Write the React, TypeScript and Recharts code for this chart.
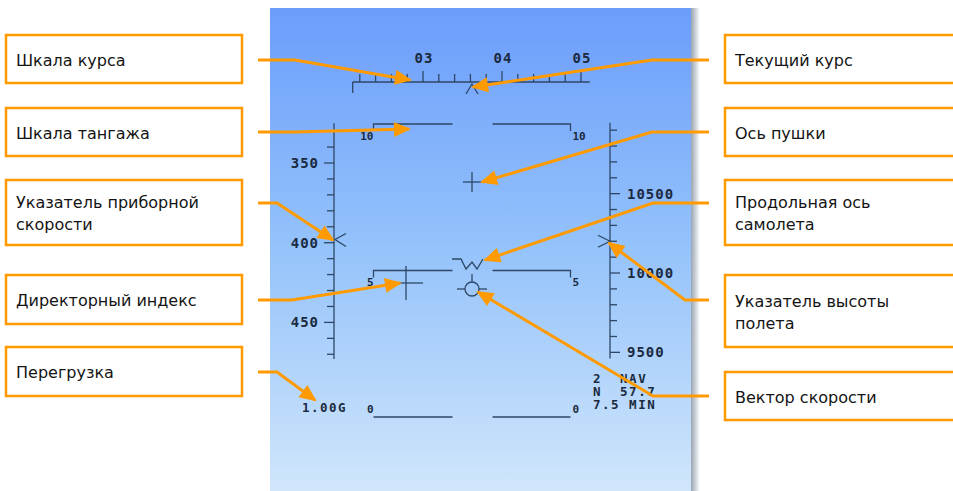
import { ComposedChart, ReferenceArea, ReferenceLine, Scatter, XAxis, YAxis } from 'recharts'

const W = 953
const H = 491
const ORANGE = '#ff9a00'
const HUD_INK = '#2e4766'
const HUD_TEXT = '#1b2a40'
const HUD_FONT = "'DejaVu Sans Mono', monospace"
const LABEL_FONT = "'DejaVu Sans', Verdana, sans-serif"

// heading tape (degrees)
const headingTicks = [22, 24, 26, 28, 30, 32, 34, 36, 38, 40, 42, 44, 46, 48, 50]
const headingLabels = [30, 40, 50]
const headingRange = [21.1, 51.1]
const currentHeading = 36.2

// airspeed scale (km/h)
const speedTicks = [330, 340, 350, 360, 370, 380, 390, 400, 410, 420, 430, 440, 450, 460, 470]
const speedLabels = [350, 400, 450]
const speedRange = [325, 473]
const currentSpeed = 398

// altitude scale (ft)
const altTicks = [9500, 9600, 9700, 9800, 9900, 10000, 10100, 10200, 10300, 10400, 10500, 10600, 10700, 10800, 10900]
const altLabels = [9500, 10000, 10500]
const altRange = [9462, 10947]
const currentAlt = 10200

// pitch ladder (degrees)
const pitchRungs = [10, 5, 0]

const gLoad = '1.00G'
const navLines = ['2  NAV', 'N  57.7', '7.5 MIN']

const leftLabels = [
  ['Шкала курса'],
  ['Шкала тангажа'],
  ['Указатель приборной', 'скорости'],
  ['Директорный индекс'],
  ['Перегрузка'],
]
const rightLabels = [
  ['Текущий курс'],
  ['Ось пушки'],
  ['Продольная ось', 'самолета'],
  ['Указатель высоты', 'полета'],
  ['Вектор скорости'],
]

// layout (pixel space of the picture)
const HDG = { ref: 30, at: 423, k: 7.9, y: 82 }
const SPD = { ref: 350, at: 163, k: 1.594, x: 334 }
const ALT = { ref: 10000, at: 273, k: 0.1587, x: 610 }
const PITCH = { ref: 0, at: 417, k: 29.3, cx: 472.5 }

const leftBoxes = [[35, 83], [108, 156], [180, 245], [275, 324], [347, 396]]
const rightBoxes = [[35, 83], [108, 156], [180, 245], [275, 347], [372, 420]]

const leftArrows = [
  [[258, 60], [295, 60], [410, 80]],
  [[258, 132], [295, 132], [409, 129]],
  [[258, 203], [277, 203], [333, 240]],
  [[258, 300], [292, 300], [400, 283]],
  [[258, 372], [277, 372], [315, 400]],
]
const rightArrows = [
  [[709, 60], [652, 60], [473, 87]],
  [[709, 132], [652, 132], [482, 182]],
  [[709, 203], [653, 203], [485, 260]],
  [[709, 300], [685, 300], [609, 243]],
  [[709, 396], [653, 396], [478, 292]],
]

const glyphs = [
  { kind: 'gun', x: 472, y: 182 },
  { kind: 'datum', x: 468, y: 264 },
  { kind: 'fd', x: 406, y: 283 },
  { kind: 'fpm', x: 472, y: 289 },
]

const hdgDomain = [HDG.ref - HDG.at / HDG.k, HDG.ref + (W - HDG.at) / HDG.k]
const spdDomain = [SPD.ref - SPD.at / SPD.k, SPD.ref + (H - SPD.at) / SPD.k]
const altDomain = [ALT.ref - (H - ALT.at) / ALT.k, ALT.ref + ALT.at / ALT.k]
const pitchDomain = [PITCH.ref - (H - PITCH.at) / PITCH.k, PITCH.ref + PITCH.at / PITCH.k]

const hudText = { fontFamily: HUD_FONT, fontWeight: 700, fill: HUD_TEXT } as const
const ink = { stroke: HUD_INK, strokeWidth: 1.3, fill: 'none' } as const

function boxTexts(labels: string[][], boxes: number[][], x: number) {
  const out: { x: number; y: number; text: string }[] = []
  labels.forEach((lines, i) => {
    const mid = (boxes[i][0] + boxes[i][1]) / 2 + 1
    lines.forEach((t, j) => out.push({ x, y: mid + (j - (lines.length - 1) / 2) * 22, text: t }))
  })
  return out
}

function arrowData(pts: number[][]) {
  return pts.map((p, i) => ({
    x: p[0],
    y: p[1],
    tip: i === pts.length - 1,
    px: i > 0 ? pts[i - 1][0] : p[0],
    py: i > 0 ? pts[i - 1][1] : p[1],
  }))
}

const ArrowHead = (props: any) => {
  const { cx, cy, payload } = props
  if (!payload.tip) return <g />
  const deg = (Math.atan2(payload.y - payload.py, payload.x - payload.px) * 180) / Math.PI
  return (
    <polygon
      points="2,0 -15,-7.5 -15,7.5"
      transform={`translate(${cx},${cy}) rotate(${deg})`}
      fill={ORANGE}
    />
  )
}

const LabelText = (props: any) => (
  <text x={props.cx} y={props.cy} dominantBaseline="central" fontFamily={LABEL_FONT} fontSize={16} fill="#141414">
    {props.payload.text}
  </text>
)

const HeadingTick = (props: any) => {
  const { cx, cy, payload } = props
  const major = headingLabels.includes(payload.x)
  return (
    <g>
      <line x1={cx} x2={cx} y1={cy} y2={cy - (major ? 11 : 8)} {...ink} />
      {major && (
        <text x={cx + 1} y={cy - 24} textAnchor="middle" dominantBaseline="central" fontSize={14} letterSpacing={1} {...hudText}>
          {String(payload.x / 10).padStart(2, '0')}
        </text>
      )}
    </g>
  )
}

const Caret = (props: any) => {
  const { cx, cy } = props
  return <polyline points={`${cx - 6},${cy + 12} ${cx},${cy + 2} ${cx + 6},${cy + 12}`} {...ink} />
}

const SpeedTick = (props: any) => {
  const { cx, cy, payload } = props
  const major = speedLabels.includes(payload.y)
  return (
    <g>
      <line x1={cx - (major ? 10 : 7)} x2={cx} y1={cy} y2={cy} {...ink} />
      {major && (
        <text x={cx - 15} y={cy} textAnchor="end" dominantBaseline="central" fontSize={14} letterSpacing={1} {...hudText}>
          {payload.y}
        </text>
      )}
    </g>
  )
}

const SpeedPointer = (props: any) => {
  const { cx, cy } = props
  return <polyline points={`${cx + 12},${cy - 6} ${cx + 1},${cy} ${cx + 12},${cy + 7}`} {...ink} />
}

const AltTick = (props: any) => {
  const { cx, cy, payload } = props
  const major = altLabels.includes(payload.y)
  return (
    <g>
      <line x1={cx} x2={cx + (major ? 10 : 7)} y1={cy} y2={cy} {...ink} />
      {major && (
        <text x={cx + 17} y={cy} dominantBaseline="central" fontSize={14} letterSpacing={1} {...hudText}>
          {payload.y}
        </text>
      )}
    </g>
  )
}

const AltPointer = (props: any) => {
  const { cx, cy } = props
  return <polyline points={`${cx - 12},${cy - 6} ${cx},${cy} ${cx - 12},${cy + 6}`} {...ink} />
}

const PitchRung = (props: any) => {
  const { cx, cy, payload } = props
  const p = payload.y
  const ty = p > 0 ? cy + 12 : cy - 8
  return (
    <g>
      <polyline points={`${cx - 99},${cy + (p > 0 ? 7 : 0)} ${cx - 99},${cy} ${cx - 20},${cy}`} {...ink} />
      <polyline points={`${cx + 20},${cy} ${cx + 98},${cy} ${cx + 98},${cy + (p > 0 ? 7 : 0)}`} {...ink} />
      <text x={cx - 99} y={ty} textAnchor="end" dominantBaseline="central" fontSize={11} {...hudText}>
        {p}
      </text>
      <text x={cx + 100} y={ty} dominantBaseline="central" fontSize={11} {...hudText}>
        {p}
      </text>
    </g>
  )
}

const Glyph = (props: any) => {
  const { cx, cy, payload } = props
  switch (payload.kind) {
    case 'gun':
      return (
        <g>
          <line x1={cx - 9} x2={cx + 9} y1={cy} y2={cy} {...ink} />
          <line x1={cx} x2={cx} y1={cy - 10} y2={cy + 10} {...ink} />
        </g>
      )
    case 'datum':
      return (
        <polyline
          points={`${cx - 16},${cy - 5} ${cx - 7},${cy - 5} ${cx - 2},${cy + 5} ${cx + 4},${cy - 2} ${cx + 9},${cy + 5} ${cx + 15},${cy - 5}`}
          {...ink}
        />
      )
    case 'fd':
      return (
        <g>
          <line x1={cx - 14} x2={cx + 17} y1={cy} y2={cy} {...ink} />
          <line x1={cx} x2={cx} y1={cy - 17} y2={cy + 17} {...ink} />
        </g>
      )
    default:
      return (
        <g>
          <circle cx={cx} cy={cy} r={7} {...ink} />
          <line x1={cx - 15} x2={cx - 7} y1={cy} y2={cy} {...ink} />
          <line x1={cx + 7} x2={cx + 15} y1={cy} y2={cy} {...ink} />
          <line x1={cx} x2={cx} y1={cy - 7} y2={cy - 15} {...ink} />
        </g>
      )
  }
}

const HudText = (props: any) => (
  <text
    x={props.cx}
    y={props.cy}
    dominantBaseline="central"
    fontSize={12.5}
    letterSpacing={1.5}
    style={{ whiteSpace: 'pre' }}
    {...hudText}
  >
    {props.payload.text}
  </text>
)

export default function App() {
  const leftTexts = boxTexts(leftLabels, leftBoxes, 16)
  const rightTexts = boxTexts(rightLabels, rightBoxes, 735)
  const infoTexts = [
    { x: 302, y: 407, text: gLoad },
    ...navLines.map((t, i) => ({ x: 593, y: 378 + i * 13, text: t })),
  ]

  return (
    <div style={{ position: 'absolute', left: 0, top: 0, width: W, height: H, background: '#fff' }}>
      <ComposedChart width={W} height={H} margin={{ top: 0, right: 0, bottom: 0, left: 0 }}>
        <defs>
          <linearGradient id="sky" x1="0" y1="0" x2="0" y2="1">
            <stop offset="0%" stopColor="#6c9dfb" />
            <stop offset="50%" stopColor="#95c3fb" />
            <stop offset="100%" stopColor="#d0e6fb" />
          </linearGradient>
          <linearGradient id="edge" x1="0" y1="0" x2="1" y2="0">
            <stop offset="0%" stopColor="#9aa5b2" />
            <stop offset="100%" stopColor="#ffffff" />
          </linearGradient>
        </defs>

        <XAxis xAxisId="px" type="number" dataKey="x" domain={[0, W]} allowDataOverflow hide />
        <XAxis xAxisId="hdg" type="number" dataKey="x" domain={hdgDomain} allowDataOverflow hide />
        <YAxis yAxisId="px" type="number" dataKey="y" domain={[0, H]} reversed allowDataOverflow hide />
        <YAxis yAxisId="spd" type="number" dataKey="y" domain={spdDomain} reversed allowDataOverflow hide />
        <YAxis yAxisId="alt" type="number" dataKey="y" domain={altDomain} allowDataOverflow hide />
        <YAxis yAxisId="pitch" type="number" dataKey="y" domain={pitchDomain} allowDataOverflow hide />

        <ReferenceArea xAxisId="px" yAxisId="px" x1={270} x2={691} y1={8} y2={H} fill="url(#sky)" fillOpacity={1} stroke="none" ifOverflow="visible" />
        <ReferenceArea xAxisId="px" yAxisId="px" x1={691} x2={700} y1={8} y2={H} fill="url(#edge)" fillOpacity={1} stroke="none" ifOverflow="visible" />

        {leftBoxes.map((b, i) => (
          <ReferenceArea key={`lb${i}`} xAxisId="px" yAxisId="px" x1={6} x2={242} y1={b[0]} y2={b[1]} fill="#fff" fillOpacity={1} stroke={ORANGE} strokeWidth={2.5} ifOverflow="visible" />
        ))}
        {rightBoxes.map((b, i) => (
          <ReferenceArea key={`rb${i}`} xAxisId="px" yAxisId="px" x1={725} x2={960} y1={b[0]} y2={b[1]} fill="#fff" fillOpacity={1} stroke={ORANGE} strokeWidth={2.5} ifOverflow="visible" />
        ))}

        {/* heading tape base */}
        <ReferenceLine xAxisId="hdg" yAxisId="px" segment={[{ x: headingRange[0], y: HDG.y }, { x: headingRange[1], y: HDG.y }]} stroke={HUD_INK} strokeWidth={1.3} />
        <ReferenceLine xAxisId="hdg" yAxisId="px" segment={[{ x: headingRange[0], y: HDG.y }, { x: headingRange[0], y: HDG.y + 11 }]} stroke={HUD_INK} strokeWidth={1.3} />
        {/* speed and altitude scales */}
        <ReferenceLine xAxisId="px" yAxisId="spd" segment={[{ x: SPD.x, y: speedRange[0] }, { x: SPD.x, y: speedRange[1] }]} stroke={HUD_INK} strokeWidth={1.3} />
        <ReferenceLine xAxisId="px" yAxisId="alt" segment={[{ x: ALT.x, y: altRange[0] }, { x: ALT.x, y: altRange[1] }]} stroke={HUD_INK} strokeWidth={1.3} />

        <Scatter xAxisId="hdg" yAxisId="px" data={headingTicks.map((h) => ({ x: h, y: HDG.y }))} shape={HeadingTick} isAnimationActive={false} />
        <Scatter xAxisId="hdg" yAxisId="px" data={[{ x: currentHeading, y: HDG.y }]} shape={Caret} isAnimationActive={false} />
        <Scatter xAxisId="px" yAxisId="spd" data={speedTicks.map((v) => ({ x: SPD.x, y: v }))} shape={SpeedTick} isAnimationActive={false} />
        <Scatter xAxisId="px" yAxisId="spd" data={[{ x: SPD.x, y: currentSpeed }]} shape={SpeedPointer} isAnimationActive={false} />
        <Scatter xAxisId="px" yAxisId="alt" data={altTicks.map((v) => ({ x: ALT.x, y: v }))} shape={AltTick} isAnimationActive={false} />
        <Scatter xAxisId="px" yAxisId="alt" data={[{ x: ALT.x, y: currentAlt }]} shape={AltPointer} isAnimationActive={false} />
        <Scatter xAxisId="px" yAxisId="pitch" data={pitchRungs.map((p) => ({ x: PITCH.cx, y: p }))} shape={PitchRung} isAnimationActive={false} />
        <Scatter xAxisId="px" yAxisId="px" data={glyphs} shape={Glyph} isAnimationActive={false} />
        <Scatter xAxisId="px" yAxisId="px" data={infoTexts} shape={HudText} isAnimationActive={false} />

        <Scatter xAxisId="px" yAxisId="px" data={leftTexts} shape={LabelText} isAnimationActive={false} />
        <Scatter xAxisId="px" yAxisId="px" data={rightTexts} shape={LabelText} isAnimationActive={false} />

        {[...leftArrows, ...rightArrows].map((a, i) => (
          <Scatter
            key={`ar${i}`}
            xAxisId="px"
            yAxisId="px"
            data={arrowData(a)}
            line={{ stroke: ORANGE, strokeWidth: 3 }}
            lineType="joint"
            shape={ArrowHead}
            isAnimationActive={false}
          />
        ))}
      </ComposedChart>
    </div>
  )
}
